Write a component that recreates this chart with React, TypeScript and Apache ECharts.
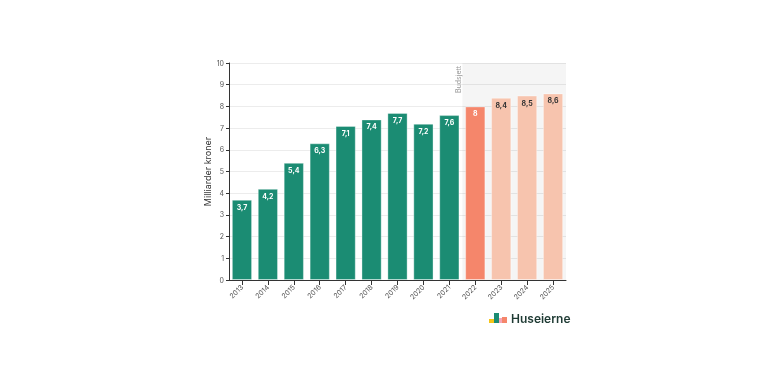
import React, { useEffect, useRef } from "react";
import * as echarts from "echarts";

const years = ["2013", "2014", "2015", "2016", "2017", "2018", "2019", "2020", "2021", "2022", "2023", "2024", "2025"];
const values = [3.7, 4.2, 5.4, 6.3, 7.1, 7.4, 7.7, 7.2, 7.6, 8, 8.4, 8.5, 8.6];
const budgetFrom = 9; // index of first budget year
const yTicks = { min: 0, max: 10, interval: 1 };

const GREEN = "#1b8c73";
const CORAL = "#f5866b";
const PALE = "#f7c4ae";

export default function App() {
  const ref = useRef<HTMLDivElement>(null);
  useEffect(() => {
    const chart = echarts.init(ref.current!, undefined, { renderer: "svg" });
    const fmt = (v: number) => String(v).replace(".", ",");
    const barData = values.map((v, i) => {
      const color = i < budgetFrom ? GREEN : i === budgetFrom ? CORAL : PALE;
      const labelColor = i <= budgetFrom ? "#ffffff" : "#333333";
      return {
        value: v,
        itemStyle: { color, borderColor: "rgba(255,255,255,0.35)", borderWidth: 1 },
        label: { color: labelColor },
      };
    });
    chart.setOption({
      animation: false,
      grid: { left: 229, right: 202, top: 63, bottom: 104 },
      xAxis: {
        type: "category",
        data: years,
        axisLine: { lineStyle: { color: "#333", width: 1 } },
        axisTick: { show: true, alignWithLabel: true, lineStyle: { color: "#333" } },
        axisLabel: { rotate: 45, fontSize: 7, color: "#555", fontFamily: "Inter", margin: 6 },
      },
      yAxis: {
        type: "value",
        min: yTicks.min,
        max: yTicks.max,
        interval: yTicks.interval,
        name: "Milliarder kroner",
        nameLocation: "middle",
        nameGap: 17,
        nameTextStyle: { fontSize: 9, color: "#333", fontFamily: "Inter" },
        axisLine: { show: true, lineStyle: { color: "#333", width: 1 } },
        axisTick: { show: true, length: 3, lineStyle: { color: "#333" } },
        axisLabel: { fontSize: 7, color: "#555", fontFamily: "Inter", margin: 5 },
        splitLine: { lineStyle: { color: "#ececec" } },
      },
      series: [
        {
          type: "bar",
          data: barData,
          barWidth: "78%",
          z: 2,
          label: {
            show: true,
            position: "insideTop",
            distance: 4,
            fontSize: 7,
            fontWeight: "bold",
            fontFamily: "Inter",
            formatter: (p: any) => fmt(p.value),
          },
        },
      ],
    });
    const px = chart.convertToPixel({ xAxisIndex: 0 }, years[budgetFrom]) as any;
    const cx = Array.isArray(px) ? px[0] : px;
    const py = chart.convertToPixel({ yAxisIndex: 0 }, yTicks.max) as any;
    const py0 = chart.convertToPixel({ yAxisIndex: 0 }, yTicks.min) as any;
    const top = Array.isArray(py) ? py[1] : py;
    const bottom = Array.isArray(py0) ? py0[1] : py0;
    const band = (768 - 229 - 202) / years.length;
    const edge = cx - band / 2;
    const right = 768 - 202;
    chart.setOption({
      graphic: [
        {
          type: "rect",
          z: 1,
          silent: true,
          shape: { x: edge, y: top, width: right - edge, height: bottom - top },
          style: { fill: "rgba(0,0,0,0.04)" },
        },
        {
          type: "text",
          x: edge - 7,
          y: 66,
          rotation: Math.PI / 2,
          style: {
            text: "Budsjett",
            fontSize: 7,
            fill: "#999",
            fontFamily: "Inter",
            align: "right",
            verticalAlign: "top",
          },
        },
        {
          type: "group",
          x: 489,
          y: 313,
          children: [
            { type: "rect", shape: { x: 0, y: 6, width: 6, height: 4 }, style: { fill: "#f5c518" } },
            { type: "rect", shape: { x: 5, y: 0, width: 5, height: 10 }, style: { fill: "#1b8c73" } },
            { type: "rect", shape: { x: 10, y: 5, width: 4, height: 5 }, style: { fill: "#f4a6b8" } },
            { type: "rect", shape: { x: 13, y: 4, width: 5, height: 6 }, style: { fill: "#f5866b" } },
            {
              type: "text",
              x: 22,
              y: -1,
              style: {
                text: "Huseierne",
                fontSize: 12,
                fontWeight: 600,
                fill: "#1f3b34",
                fontFamily: "Inter",
              },
            },
          ],
        },
      ],
    });
    return () => chart.dispose();
  }, []);
  return <div ref={ref} style={{ position: "fixed", left: 0, top: 0, width: 768, height: 384 }} />;
}
